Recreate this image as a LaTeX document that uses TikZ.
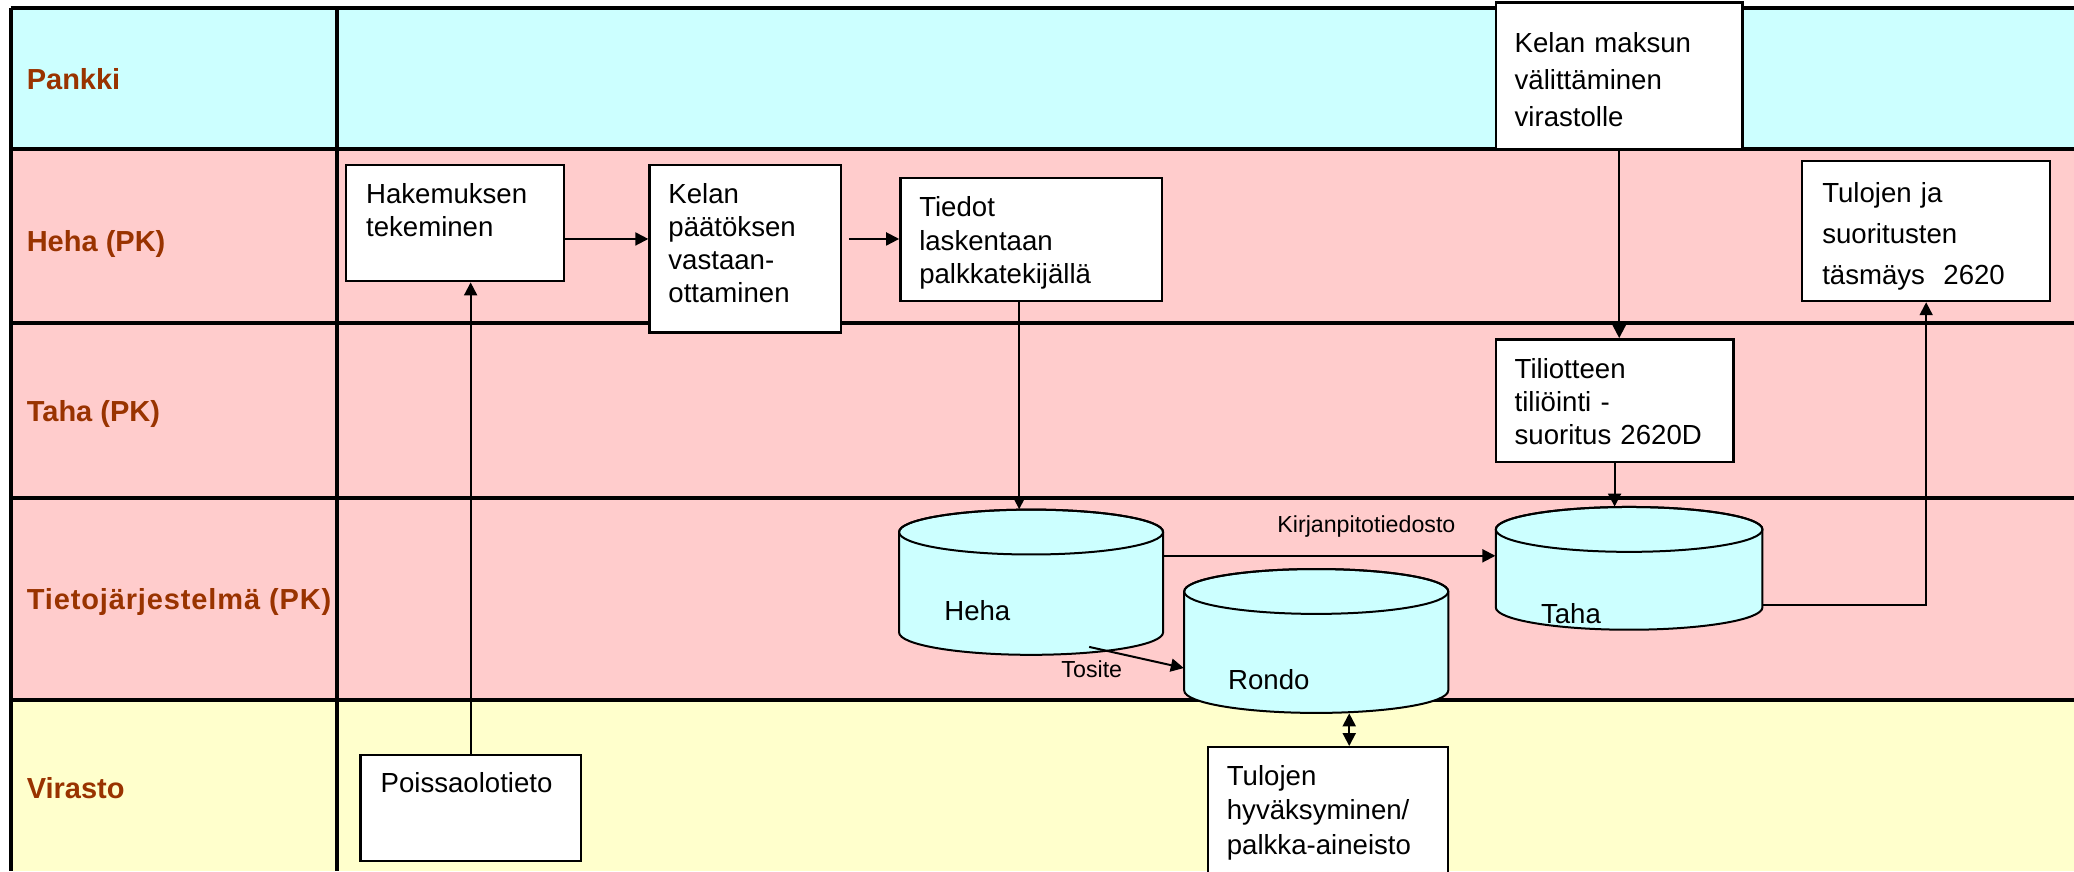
\documentclass[tikz,border=0pt]{standalone}
\usepackage{fontspec}
\setmainfont{Liberation Sans}
\usetikzlibrary{arrows.meta,fit,calc}
\definecolor{lanecyan}{HTML}{CCFFFF}
\definecolor{lanepink}{HTML}{FFCCCC}
\definecolor{laneyellow}{HTML}{FFFFCC}
\definecolor{lanetext}{HTML}{993300}
\tikzset{
  lanelbl/.style={anchor=base west, inner sep=0, text=lanetext, font=\fontsize{14.5}{17}\selectfont\bfseries},
  laneline/.style={line width=2pt, black},
  procbox/.style={draw, fill=white, line width=1.2pt, inner sep=0},
  boxtext/.style={anchor=base west, inner sep=0, align=left, text width=150pt},
  cyltext/.style={anchor=base west, inner sep=0, font=\fontsize{13.8}{16.5}\selectfont},
  smalllbl/.style={anchor=base, inner sep=0, font=\fontsize{11.6}{14}\selectfont},
  cylbody/.style={fill=lanecyan, draw=black, line width=1pt},
  cylrim/.style={draw=black, line width=1pt},
  arr/.style={-{Triangle[length=6.5pt,width=6.5pt]}, line width=1pt},
  dblarr/.style={{Triangle[length=6.5pt,width=6.5pt]}-{Triangle[length=6.5pt,width=6.5pt]}, line width=1pt},
}
% name, x1, y1, x2, y2, text x, first baseline y, baselineskip (pt), text
\newcommand\procbox[9]{%
  \node[procbox, fit={(#2,-#3)(#4,-#5)}] (#1) {};
  \node[boxtext, font=\fontsize{13.8}{#8}\selectfont] (#1txt) at (#6,-#7) {#9};
}
% name, x1, x2, top centre y, bottom centre y, ry
\newcommand\dbcyl[6]{%
  \pgfmathsetmacro\cylrx{(#3-#2)/2}
  \path[cylbody] (#2,-#4) -- (#2,-#5) arc[start angle=180, end angle=360, x radius=\cylrx, y radius=#6]
     -- (#3,-#4) arc[start angle=0, end angle=180, x radius=\cylrx, y radius=#6] -- cycle;
  \path[cylrim] ({(#2+#3)/2},-#4) ellipse[x radius=\cylrx, y radius=#6];
  \node[fit={(#2,{-(#4-#6)})(#3,{-(#5+#6)})}, inner sep=0] (#1) {};
}
\begin{document}
\begin{tikzpicture}[x=0.66pt, y=0.66pt]
\useasboundingbox (0,0) rectangle (1571,-660);
\fill[white] (0,0) rectangle (1571,-660);
% lanes
\fill[lanecyan] (8,-6) rectangle (1571,-113);
\fill[lanepink] (8,-113) rectangle (1571,-530);
\fill[laneyellow] (8,-530) rectangle (1571,-660);
\foreach \yy in {6,113,245,377,530}{\draw[laneline] (8,-\yy) -- (1571,-\yy);}
\draw[laneline] (8,-6) -- (8,-660);
\draw[laneline] (255,-6) -- (255,-660);
% lane labels
\node[lanelbl] (lPankki) at (20,-67.6) {Pankki};
\node[lanelbl] (lHeha) at (20,-190.5) {Heha (PK)};
\node[lanelbl] (lTaha) at (20,-319.5) {Taha (PK)};
\node[lanelbl] (lTieto) at (20,-462) {\addfontfeature{LetterSpace=3}Tietojärjestelmä (PK)};
\node[lanelbl] (lVirasto) at (20,-605) {Virasto};
% process boxes
\procbox{kelm}{1133}{2}{1320}{113}{1147}{40}{18.5}{Kelan maksun\\välittäminen\\virastolle}
\procbox{hak}{262}{125}{427}{213}{277}{154}{16.5}{Hakemuksen\\tekeminen}
\procbox{kpv}{492}{125}{637}{252}{506}{154}{16.5}{Kelan\\päätöksen\\vastaan-\\ottaminen}
\procbox{tied}{682}{135}{880}{228}{696}{164}{16.8}{Tiedot\\laskentaan\\palkkatekijällä}
\procbox{tul}{1365}{122}{1553}{228}{1380}{153}{20.5}{Tulojen ja\\suoritusten\\täsmäys\ \ 2620}
\procbox{til}{1133}{257}{1313}{350}{1147}{287}{16.5}{Tiliotteen\\tiliöinti -\\suoritus 2620D}
\procbox{pois}{273}{572}{440}{652}{288}{600}{16.5}{Poissaolotieto}
\procbox{tulh}{915}{566}{1097}{664}{929}{595}{17.2}{Tulojen\\hyväksyminen/\\palkka-aineisto}
% databases
\dbcyl{cHeha}{681}{881}{403}{479}{17}
\dbcyl{cRondo}{897}{1097}{448}{523}{17}
\dbcyl{cTaha}{1133}{1335}{401}{460}{17}
\node[cyltext] (tHeha) at (715,-470) {Heha};
\node[cyltext] (tRondo) at (930,-522) {Rondo};
\node[cyltext] (tTaha) at (1167,-472) {Taha};
% connectors
\coordinate (h181) at (0,-181);
\coordinate (h421) at (0,-421);
\coordinate (h458) at (0,-458);
\coordinate (h506) at (0,-506);
\coordinate (v1022) at (1022,0);
\coordinate (v772) at (772,0);
\coordinate (kpvout) at ([xshift=3.3pt]kpv.east);
\coordinate (tosA) at (825,-490);
\draw[arr] (hak.east |- h181) -- (kpv.west |- h181);
\draw[arr] (kpvout |- h181) -- (tied.west |- h181);
\draw[arr] (tied.south -| v772) -- (cHeha.north -| v772);
\draw[arr] (kelm.south) -- (kelm.south |- til.north);
\draw[arr] (til.south) -- (til.south |- cTaha.north);
\draw[arr] (cHeha.east |- h421) -- (cTaha.west |- h421);
\node[smalllbl] (lKirj) at (1035,-403) {Kirjanpitotiedosto};
\draw[arr] (cTaha.east |- h458) -| (tul.south);
\draw[arr] (pois.north) -- (pois.north |- hak.south);
\draw[arr] (tosA) -- (cRondo.west |- h506);
\node[smalllbl] (lTosite) at (827,-513) {Tosite};
\draw[dblarr] (cRondo.south -| v1022) -- (tulh.north -| v1022);
\end{tikzpicture}
\end{document}
